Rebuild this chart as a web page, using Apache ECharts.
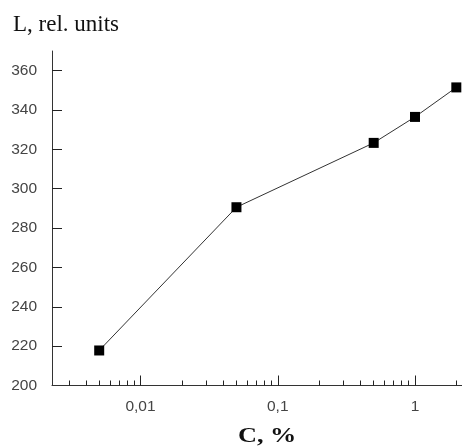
<!DOCTYPE html>
<html>
<head>
<meta charset="utf-8">
<script src="https://cdn.jsdelivr.net/npm/echarts@6/dist/echarts.min.js"></script>
<style>
  html, body { margin: 0; padding: 0; background: #fff; }
  #chart { width: 462px; height: 446px; }
</style>
</head>
<body>
<div id="chart"></div>
<script>
// concentration C, % (log scale)
const concValues = [0.005, 0.05, 0.5, 1, 2];
// L, rel. units
const lValues = [217.8, 290.6, 323.3, 336.5, 351.5];

const yTickValues = [220, 240, 260, 280, 300, 320, 340, 360];
const yLabelValues = [200, 220, 240, 260, 280, 300, 320, 340, 360];
const xMajorTicks = [0.01, 0.1, 1];
const xMinorTicks = [0.003, 0.004, 0.005, 0.006, 0.007, 0.008, 0.009,
  0.02, 0.03, 0.04, 0.05, 0.06, 0.07, 0.08, 0.09,
  0.2, 0.3, 0.4, 0.5, 0.6, 0.7, 0.8, 0.9, 2];

const myChart = echarts.init(document.getElementById("chart"));

const labelFont = {
  color: "#444",
  fontSize: 15.5,
  fontFamily: "Liberation Sans, Arial, sans-serif",
};
const titleFont = "Liberation Serif, Times New Roman, serif";

const option = {
  animation: false,
  backgroundColor: "#fff",
  grid: { left: 52, right: 0, top: 51, bottom: 60.5 },
  graphic: [
    {
      type: "text",
      x: 13,
      y: 25,
      style: {
        text: "L, rel. units",
        fontSize: 23,
        fontFamily: titleFont,
        fill: "#111",
        verticalAlign: "middle",
      },
    },
    {
      type: "text",
      x: 238,
      y: 437,
      scaleX: 1.25,
      style: {
        text: "C, %",
        fontSize: 21,
        fontWeight: 600,
        fontFamily: titleFont,
        fill: "#111",
        verticalAlign: "middle",
      },
    },
  ],
  xAxis: [
    {
      type: "log",
      logBase: 10,
      min: 0.002265,
      max: 2.2,
      axisLine: { lineStyle: { color: "#333", width: 1 } },
      axisTick: {
        inside: true,
        length: 10,
        customValues: xMajorTicks,
        lineStyle: { color: "#222" },
      },
      axisLabel: {
        margin: 13,
        customValues: xMajorTicks,
        formatter: (v) => String(v).replace(".", ","),
        ...labelFont,
      },
      splitLine: { show: false },
      minorTick: { show: false },
    },
    {
      // minor log ticks (2..9 of each decade)
      type: "log",
      logBase: 10,
      min: 0.002265,
      max: 2.2,
      position: "bottom",
      axisLine: { show: false },
      axisTick: {
        inside: true,
        length: 5,
        customValues: xMinorTicks,
        lineStyle: { color: "#222" },
      },
      axisLabel: { show: false },
      splitLine: { show: false },
    },
  ],
  yAxis: {
    type: "value",
    min: 200,
    max: 370,
    axisLine: { show: true, lineStyle: { color: "#333", width: 1 } },
    axisTick: {
      show: true,
      inside: true,
      length: 10,
      customValues: yTickValues,
      lineStyle: { color: "#222" },
    },
    axisLabel: {
      margin: 15,
      customValues: yLabelValues,
      ...labelFont,
    },
    splitLine: { show: false },
  },
  series: [
    {
      type: "line",
      xAxisIndex: 0,
      data: concValues.map((c, i) => [c, lValues[i]]),
      symbol: "rect",
      symbolSize: 10,
      itemStyle: { color: "#000" },
      lineStyle: { color: "#333", width: 1 },
    },
  ],
};

myChart.setOption(option);
window.addEventListener("resize", () => {
  myChart.resize();
});
</script>
</body>
</html>
